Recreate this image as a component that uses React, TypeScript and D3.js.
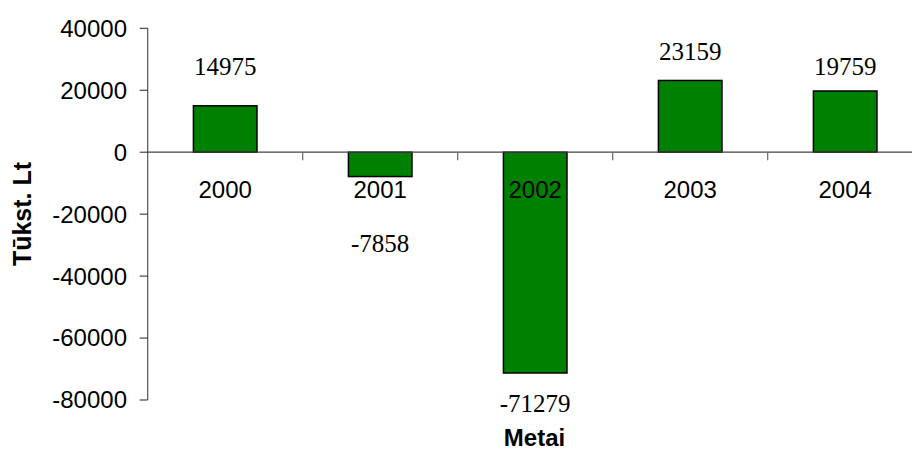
import React from "react";
import * as d3 from "d3";

// Yearly result, thousand litas
const years: string[] = ["2000", "2001", "2002", "2003", "2004"];
const values: number[] = [14975, -7858, -71279, 23159, 19759];
const yTicks: number[] = [40000, 20000, 0, -20000, -40000, -60000, -80000];

// Vertical nudge of each value label from its bar end (px)
const labelNudge: number[] = [-31, 75, 39, -20.5, -16];

const W = 912;
const H = 453;
const left = 147.7;
const right = 922.7;
const top = 28.3;
const bottom = 400;

const sans = "Arial, 'Liberation Sans', sans-serif";
const serif = "'Times New Roman', 'Liberation Serif', serif";

export default function App() {
  const x = d3
    .scaleBand<string>()
    .domain(years)
    .range([left, right])
    .paddingInner(0.59)
    .paddingOuter(0.295);
  const y = d3.scaleLinear().domain([-80000, 40000]).range([bottom, top]);
  const step = x.step();
  const y0 = y(0);
  const boundaries = d3.range(1, years.length).map((i) => left + i * step);

  return (
    <svg
      width={W}
      height={H}
      style={{ position: "absolute", left: 0, top: 0, background: "#fff" }}
    >
      {/* value axis */}
      <line x1={left} x2={left} y1={top} y2={bottom} stroke="#555" strokeWidth={1.2} />
      {yTicks.map((t) => (
        <g key={t}>
          <line x1={left - 8} x2={left} y1={y(t)} y2={y(t)} stroke="#222" strokeWidth={1} />
          <text
            x={127}
            y={y(t)}
            dy="0.35em"
            textAnchor="end"
            fontFamily={sans}
            fontSize={24}
            fill="#000"
          >
            {t}
          </text>
        </g>
      ))}

      {/* bars */}
      {years.map((yr, i) => {
        const v = values[i];
        const yTop = Math.min(y(v), y0);
        const h = Math.abs(y(v) - y0);
        return (
          <rect
            key={yr}
            x={x(yr)}
            y={yTop}
            width={x.bandwidth()}
            height={h}
            fill="#008000"
            stroke="#000"
            strokeWidth={1.5}
          />
        );
      })}

      {/* category axis at zero */}
      <line x1={left} x2={W} y1={y0} y2={y0} stroke="#444" strokeWidth={1.2} />
      {boundaries.map((bx) => (
        <line key={bx} x1={bx} x2={bx} y1={y0} y2={y0 + 8} stroke="#666" strokeWidth={1.2} />
      ))}
      {years.map((yr) => (
        <text
          key={yr}
          x={(x(yr) as number) + x.bandwidth() / 2}
          y={197.5}
          textAnchor="middle"
          fontFamily={sans}
          fontSize={24}
          fill="#000"
        >
          {yr}
        </text>
      ))}

      {/* value labels */}
      {years.map((yr, i) => (
        <text
          key={"v" + yr}
          x={(x(yr) as number) + x.bandwidth() / 2}
          y={y(values[i]) + labelNudge[i]}
          textAnchor="middle"
          fontFamily={serif}
          fontSize={25}
          fill="#000"
        >
          {values[i]}
        </text>
      ))}

      {/* axis titles */}
      <text
        transform={`translate(30.5, 214) rotate(-90)`}
        textAnchor="middle"
        fontFamily={sans}
        fontWeight="bold"
        fontSize={25}
        fill="#000"
      >
        Tūkst. Lt
      </text>
      <text
        x={534.5}
        y={446}
        textAnchor="middle"
        fontFamily={sans}
        fontWeight="bold"
        fontSize={24}
        fill="#000"
      >
        Metai
      </text>
    </svg>
  );
}
